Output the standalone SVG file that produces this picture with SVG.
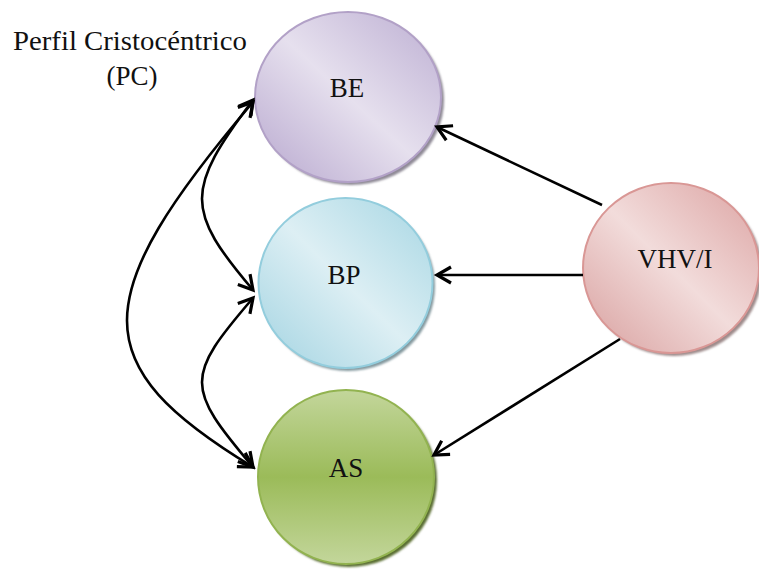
<svg xmlns="http://www.w3.org/2000/svg" width="759" height="569" viewBox="0 0 759 569">
  <style>
    .lbl { font-family: "Liberation Serif", "Times New Roman", serif; font-size: 27px; fill: #111; text-anchor: middle; }
    .conn { fill: none; stroke: #000; stroke-width: 2.6; }
    .shadow { filter: url(#soft); }
  </style>
  <defs>
    <filter id="soft" x="-10%" y="-10%" width="120%" height="120%">
      <feGaussianBlur stdDeviation="1.2"/>
    </filter>
    <linearGradient id="gBE" x1="1" y1="0" x2="0" y2="1">
      <stop offset="0" stop-color="#bcaed2"/>
      <stop offset="0.5" stop-color="#e6e0ee"/>
      <stop offset="1" stop-color="#b7a7ce"/>
    </linearGradient>
    <linearGradient id="gBP" x1="1" y1="0" x2="0" y2="1">
      <stop offset="0" stop-color="#a6d6e3"/>
      <stop offset="0.5" stop-color="#ddeff4"/>
      <stop offset="1" stop-color="#a2d3e1"/>
    </linearGradient>
    <linearGradient id="gAS" x1="0" y1="0" x2="0" y2="1">
      <stop offset="0" stop-color="#c3d69b"/>
      <stop offset="0.5" stop-color="#9bbb59"/>
      <stop offset="1" stop-color="#c3d69b"/>
    </linearGradient>
    <linearGradient id="gVH" x1="1" y1="0" x2="0" y2="1">
      <stop offset="0" stop-color="#dca3a2"/>
      <stop offset="0.5" stop-color="#f2dcdb"/>
      <stop offset="1" stop-color="#d89f9e"/>
    </linearGradient>
    <marker id="open" markerUnits="userSpaceOnUse" markerWidth="30" markerHeight="30" viewBox="-15 -15 30 30" refX="0" refY="0" orient="auto-start-reverse" overflow="visible">
      <path d="M-14,-8 L0,0 L-14,8" fill="none" stroke="#000" stroke-width="3.2" stroke-linejoin="miter"/>
    </marker>
  </defs>

  <!-- title label -->
  <g id="label-pc">
    <text class="lbl" x="130" y="50" textLength="234" lengthAdjust="spacingAndGlyphs">Perfil Cristocéntrico</text>
    <text class="lbl" x="132" y="85">(PC)</text>
  </g>

  <g id="node-be">
    <ellipse class="shadow" cx="351" cy="100" rx="93" ry="85" fill="#8f8a96"/>
    <ellipse cx="348" cy="97" rx="93" ry="85" fill="url(#gBE)" stroke="#b2a1c7" stroke-width="2"/>
    <text class="lbl" x="347" y="97">BE</text>
  </g>

  <g id="node-bp">
    <ellipse class="shadow" cx="348" cy="286" rx="87" ry="85" fill="#84999f"/>
    <ellipse cx="345.5" cy="283" rx="87" ry="85" fill="url(#gBP)" stroke="#93cddd" stroke-width="2"/>
    <text class="lbl" x="344" y="284">BP</text>
  </g>

  <g id="node-as">
    <ellipse class="shadow" cx="349" cy="480" rx="88" ry="87" fill="#5a6e30"/>
    <ellipse cx="346" cy="477" rx="88" ry="87" fill="url(#gAS)" stroke="#92b350" stroke-width="2"/>
    <text class="lbl" x="346" y="477">AS</text>
  </g>

  <g id="node-vhv">
    <ellipse class="shadow" cx="674" cy="271" rx="88" ry="85" fill="#9e8b8b"/>
    <ellipse cx="671" cy="268" rx="88" ry="85" fill="url(#gVH)" stroke="#d99795" stroke-width="2"/>
    <text class="lbl" x="675" y="268">VHV/I</text>
  </g>

  <g id="connectors">
    <!-- VHV/I to each node -->
    <line class="conn" x1="602" y1="205" x2="437" y2="127" marker-end="url(#open)"/>
    <line class="conn" x1="583" y1="275" x2="437" y2="275" marker-end="url(#open)"/>
    <line class="conn" x1="620" y1="339" x2="434" y2="455" marker-end="url(#open)"/>
    <!-- two-way links on the left -->
    <path class="conn" d="M253,290 C185,210 185,190 253,100" marker-start="url(#open)" marker-end="url(#open)"/>
    <path class="conn" d="M253,467 C185,387 185,377 253,298" marker-start="url(#open)" marker-end="url(#open)"/>
    <path class="conn" d="M253,467 C85,365 85,300 253,102" marker-start="url(#open)" marker-end="url(#open)"/>
  </g>
</svg>
